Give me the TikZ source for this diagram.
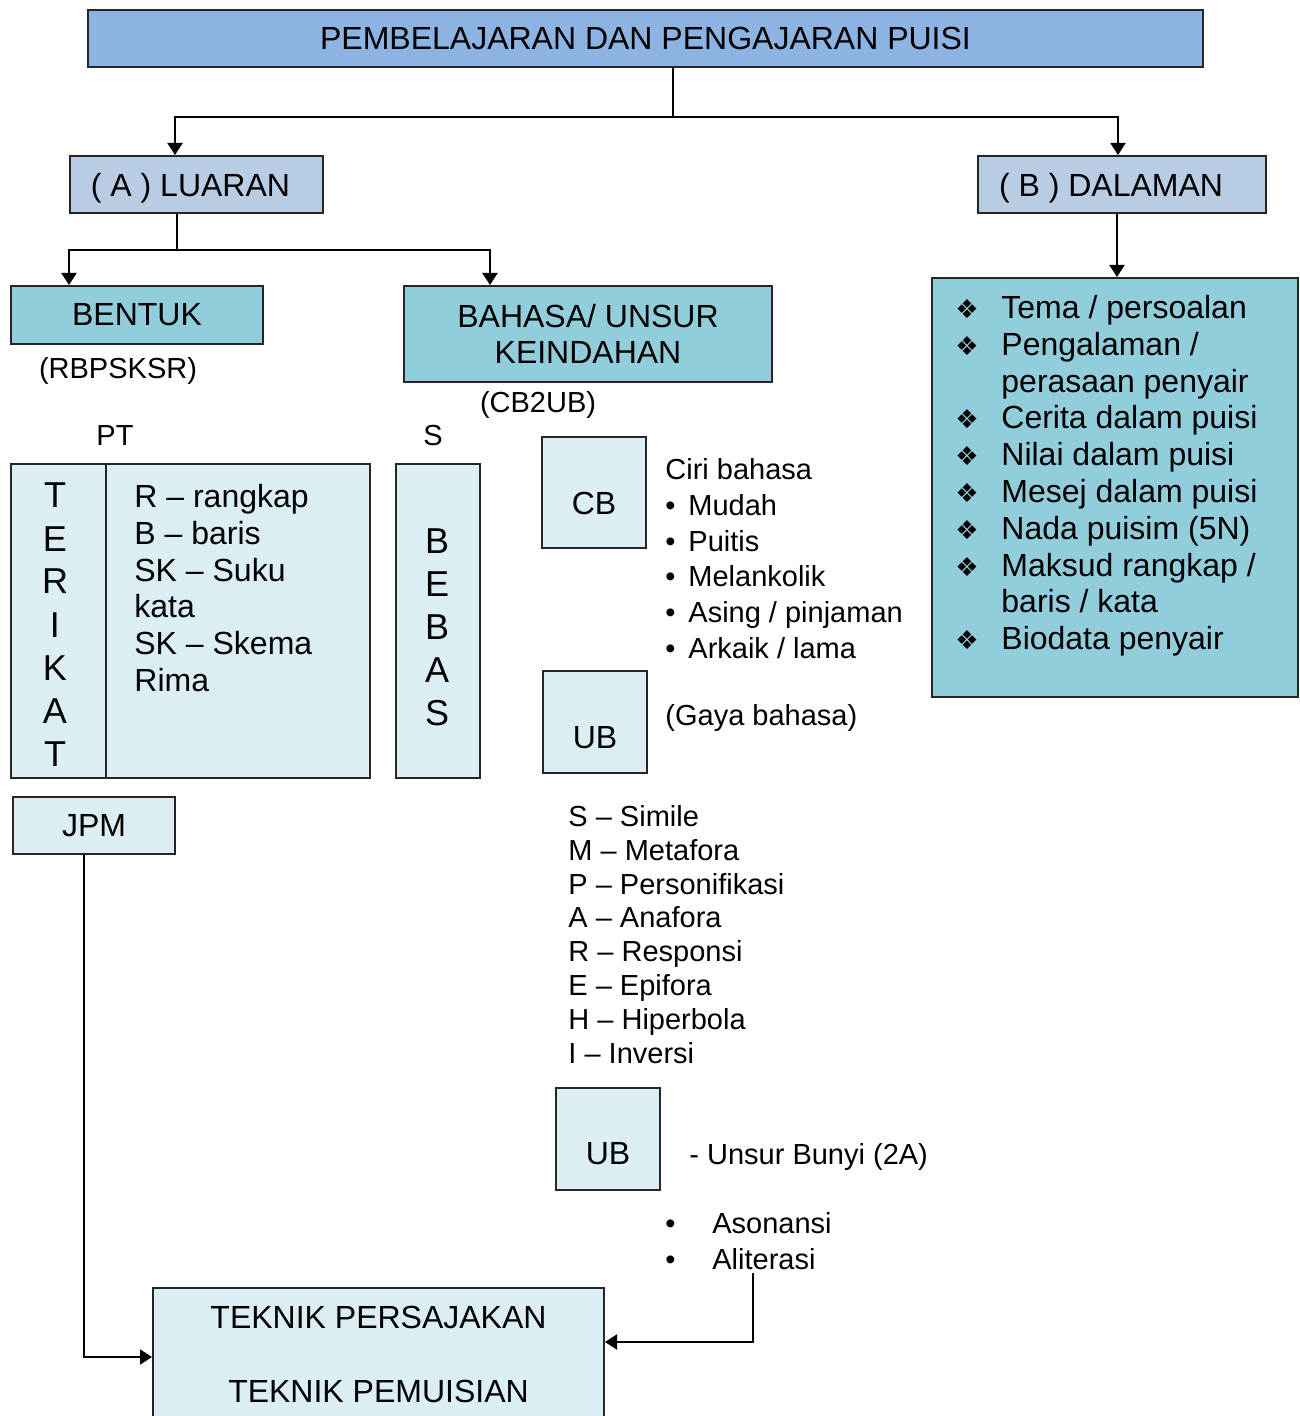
\documentclass[tikz,border=0pt]{standalone}
\usepackage{fontspec}
\setmainfont{Liberation Sans}
\newfontfamily\dingfont{DejaVu Sans}
\usetikzlibrary{arrows.meta, positioning}
\definecolor{titleblue}{HTML}{8DB3E2}
\definecolor{headblue}{HTML}{B8CCE4}
\definecolor{boxteal}{HTML}{92CDDC}
\definecolor{palebox}{HTML}{DBEEF3}
\newcommand{\diabullet}{{\dingfont\fontsize{13}{13}\selectfont ❖}}
\tikzset{
box/.style={draw=black!85, line width=1pt, inner sep=0pt, align=center, font=\fontsize{16}{18.4}\selectfont}, % every framed box
big/.style={inner sep=0pt, font=\fontsize{16}{18.4}\selectfont}, % text at box size
small/.style={inner sep=0pt, font=\fontsize{14.5}{17.9}\selectfont}, % notes beside the boxes
flat/.style={text depth=0pt}, % centre on the capitals, not the brackets
letters/.style={inner sep=0pt, font=\fontsize{18}{21.5}\selectfont}, % upright words
link/.style={line width=1pt}, % plain connector
arr/.style={link, -{Triangle[width=7.5pt,length=6pt]}}, % connector with a head
}

\begin{document}
\begin{tikzpicture}[x=0.5pt, y=-0.5pt]
    \useasboundingbox (0,0) rectangle (1299,1416);
    % top levels
    \node[box, fill=titleblue, minimum width=557.5pt, minimum height=28.5pt] (title) at (645.5,38.5) {PEMBELAJARAN DAN PENGAJARAN PUISI};
    \node[box, flat, fill=headblue, minimum width=126.5pt, minimum height=28.5pt] (luaran) at (196.5,184.5) {( A ) LUARAN\hspace{6pt}};
    \node[box, flat, fill=headblue, minimum width=144pt, minimum height=28.5pt] (dalaman) at (1122,184.5) {( B ) DALAMAN\hspace{11pt}};
    \node[box, fill=boxteal, minimum width=126pt, minimum height=29pt] (bentuk) at (137,315) {BENTUK};
    \node[box, fill=boxteal, minimum width=184pt, minimum height=48pt] (bahasa) at (588,334) {BAHASA/ UNSUR\\KEINDAHAN};
    \node[box, fill=boxteal, minimum width=183pt, minimum height=209.5pt] (aspek) at (1115,487.5) {};
    \node[big, anchor=base west] (aspekteks) at (955,318.5) {\begin{tabular}[t]{@{}p{23pt}@{}l@{}}
        \diabullet & Tema / persoalan\\
        \diabullet & Pengalaman /\\
                   & perasaan penyair\\
        \diabullet & Cerita dalam puisi\\
        \diabullet & Nilai dalam puisi\\
        \diabullet & Mesej dalam puisi\\
        \diabullet & Nada puisim (5N)\\
        \diabullet & Maksud rangkap /\\
                   & baris / kata\\
        \diabullet & Biodata penyair
    \end{tabular}};

    % bentuk
    \node[small, flat] (rbp) at (118,368) {(RBPSKSR)};
    \node[small] (pt) at (115,436) {PT};
    \node[small] (s) at (433,436) {S};
    \node[box, fill=palebox, minimum width=47.5pt, minimum height=157pt] (terikat) at (58.5,621) {};
    \node[box, fill=palebox, minimum width=132pt, minimum height=157pt] (rangkap) at (238,621) {};
    \node[box, fill=palebox, minimum width=42pt, minimum height=157pt] (bebas) at (438,621) {};
    \node[letters, anchor=base] (terikatteks) at (55,508) {\begin{tabular}[t]{@{}c@{}}T\\E\\R\\I\\K\\A\\T\end{tabular}};
    \node[letters, anchor=base] (bebasteks) at (437,553) {\begin{tabular}[t]{@{}c@{}}B\\E\\B\\A\\S\end{tabular}};
    \node[big, anchor=base west] (rangkapteks) at (134,507.5) {\begin{tabular}[t]{@{}l@{}}R – rangkap\\B – baris\\SK – Suku\\kata\\SK – Skema\\Rima\end{tabular}};
    \node[box, fill=palebox, minimum width=81pt, minimum height=28.5pt] (jpm) at (94,825.5) {JPM};

    % bahasa
    \node[small, flat] (cbub) at (538,402) {(CB2UB)};
    \node[box, fill=palebox, minimum width=52pt, minimum height=55.5pt] (cb) at (594,492.5) {};
    \node[big] (cbteks) at (594,503) {CB};
    \node[small, anchor=base west] (ciri) at (665,479.4) {\begin{tabular}[t]{@{}p{11.5pt}@{}l@{}}
        \multicolumn{2}{@{}l@{}}{Ciri bahasa}\\
        • & Mudah\\
        • & Puitis\\
        • & Melankolik\\
        • & Asing / pinjaman\\
        • & Arkaik / lama
    \end{tabular}};
    \node[box, fill=palebox, minimum width=52pt, minimum height=51pt] (ub) at (595,722) {};
    \node[big] (ubteks) at (595,738) {UB};
    \node[small, flat, anchor=west] (gaya) at (665,715) {(Gaya bahasa)};
    \node[small, font=\fontsize{14.5}{16.9}\selectfont, anchor=base west] (majas) at (568,826.4) {\begin{tabular}[t]{@{}l@{}}
        S – Simile\\M – Metafora\\P – Personifikasi\\A – Anafora\\R – Responsi\\E – Epifora\\H – Hiperbola\\I – Inversi
    \end{tabular}};
    \node[box, fill=palebox, minimum width=52pt, minimum height=51pt] (ub2) at (608,1139) {};
    \node[big] (ub2teks) at (608,1154) {UB};
    \node[small, flat, anchor=west] (bunyi) at (689,1154) {- Unsur Bunyi (2A)};
    \node[small, font=\fontsize{14.5}{18}\selectfont, anchor=base west] (bunyilist) at (665,1233.4) {\begin{tabular}[t]{@{}p{23.5pt}@{}l@{}}
        • & Asonansi\\
        • & Aliterasi
    \end{tabular}};

    % bottom
    \node[box, fill=palebox, minimum width=225.5pt, minimum height=66pt] (teknik) at (378.5,1354) {TEKNIK PERSAJAKAN\\[18.6pt]TEKNIK PEMUISIAN};

    % connectors
    \coordinate (hub) at ([xshift=13.75pt, yshift=-24.5pt]title.south);
    \draw[link] (title.south -| hub) -- (hub);
    \draw[arr] (hub) -| ([xshift=-10.75pt]luaran.north);
    \draw[arr] (hub) -| ([xshift=-2pt]dalaman.north);
    \coordinate (split) at ([xshift=-9.75pt, yshift=-18pt]luaran.south);
    \draw[link] (luaran.south -| split) -- (split);
    \draw[arr] (split) -| ([xshift=-34pt]bentuk.north);
    \draw[arr] (split) -| ([xshift=-49pt]bahasa.north);
    \draw[arr] ([xshift=-2.5pt]dalaman.south) -- ([xshift=-2.5pt]dalaman.south |- aspek.north);
    \draw[arr] ([xshift=-5pt]jpm.south) |- ([yshift=-1.5pt]teknik.west);
    \coordinate (bunyiend) at (753,1273);
    \draw[arr] (bunyiend) |- ([yshift=6pt]teknik.east);
\end{tikzpicture}
\end{document}
